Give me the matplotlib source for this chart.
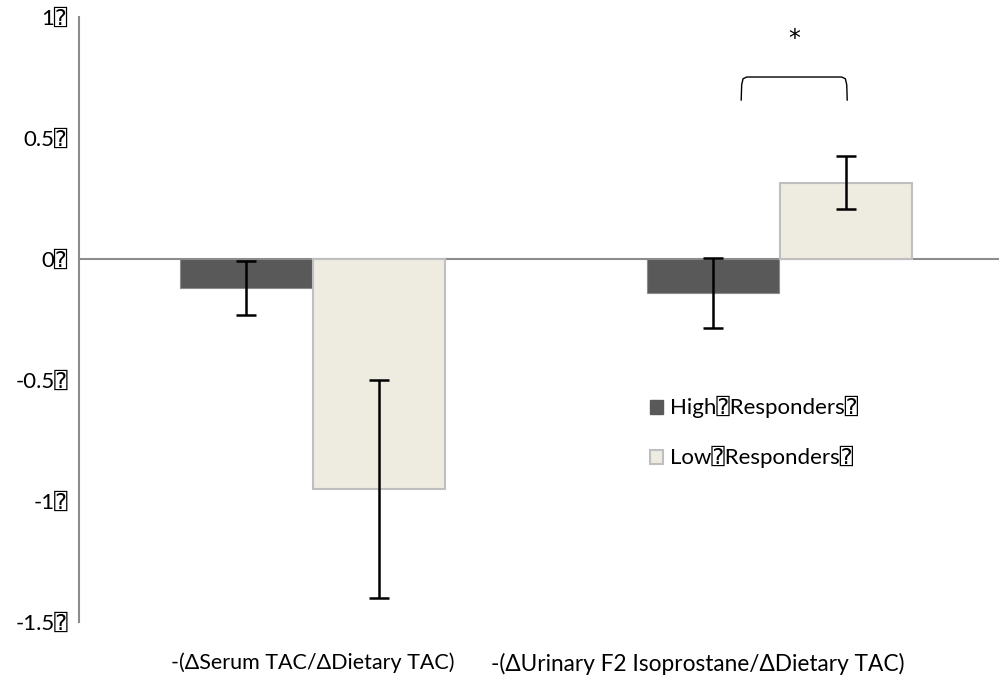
import matplotlib
matplotlib.use("Agg")
import matplotlib.pyplot as plt
import numpy as np
from matplotlib.patches import Patch

BOX = "\u2370"
categories = ["-(\u0394Serum TAC/\u0394Dietary TAC)",
              "-(\u0394Urinary F2 Isoprostane/\u0394Dietary TAC)"]
series_names = ["High" + BOX + "Responders" + BOX, "Low" + BOX + "Responders" + BOX]
high_vals = [-0.12, -0.14]
high_err = [0.11, 0.145]
low_vals = [-0.95, 0.315]
low_err = [0.45, 0.11]
ytick_vals = [-1.5, -1, -0.5, 0, 0.5, 1]
ytick_labels = ["-1.5" + BOX, "-1" + BOX, "-0.5" + BOX, "0" + BOX, "0.5" + BOX, "1" + BOX]
star_label = "*"

FAM = ["Lato", "DejaVu Sans", "DejaVu Sans Mono"]
plt.rcParams["font.family"] = FAM

fig = plt.figure(figsize=(9.99, 6.76), dpi=100)
ax = fig.add_axes([79 / 999, 1 - 622 / 676, 934 / 999, 605 / 676])

x = np.arange(len(categories))
w = 0.283
ax.bar(x - w / 2, high_vals, w, color="#595959", edgecolor="#8c8c8c", linewidth=0.8, zorder=2)
ax.bar(x + w / 2, low_vals, w, color="#eeebe0", edgecolor="#bfbfbf", linewidth=1.5, zorder=2)
ax.errorbar(x - w / 2, high_vals, yerr=high_err, fmt="none", ecolor="black",
            elinewidth=1.8, capsize=7, capthick=1.8, zorder=3)
ax.errorbar(x + w / 2, low_vals, yerr=low_err, fmt="none", ecolor="black",
            elinewidth=1.8, capsize=7, capthick=1.8, zorder=3)

ax.axhline(0, color="#8c8c8c", linewidth=1.5, zorder=1)
ax.set_xlim(-0.5, 1.5)
ax.set_ylim(-1.5, 1.0)

for s in ["top", "right", "bottom"]:
    ax.spines[s].set_visible(False)
ax.spines["left"].set_color("#8c8c8c")
ax.spines["left"].set_linewidth(1.5)
ax.spines["left"].set_bounds(-1.5, 1.0)

ax.set_yticks(ytick_vals)
ax.set_yticklabels(ytick_labels, fontsize=16)
ax.tick_params(axis="y", length=0, pad=8)
ax.set_xticks([0, 0.826])
ax.set_xticklabels(categories, fontsize=15.5)
ax.tick_params(axis="x", length=0, pad=22)
ax.get_xticklabels()[1].set_fontsize(16.3)

# significance bracket
bx0, bx1 = 0.918, 1.145
ax.plot([bx0, bx0 + 0.001, bx0 + 0.004, bx0 + 0.012, bx1 - 0.012, bx1 - 0.004, bx1 - 0.001, bx1],
        [0.657, 0.72, 0.745, 0.752, 0.752, 0.745, 0.72, 0.657], color="black", linewidth=1.0)
ax.text((bx0 + bx1) / 2, 0.91, star_label, ha="center", va="center", fontsize=17,
        family="DejaVu Sans")

handles = [Patch(facecolor="#595959", edgecolor="#595959"),
           Patch(facecolor="#eeebe0", edgecolor="#bfbfbf", linewidth=1.5)]
ax.legend(handles, series_names, loc="upper left", bbox_to_anchor=(0.611, 0.373),
          frameon=False, fontsize=16, handlelength=0.6, handleheight=0.6,
          handletextpad=0.3, labelspacing=1.25, borderpad=0, borderaxespad=0)

fig.savefig("out.png", dpi=100)
